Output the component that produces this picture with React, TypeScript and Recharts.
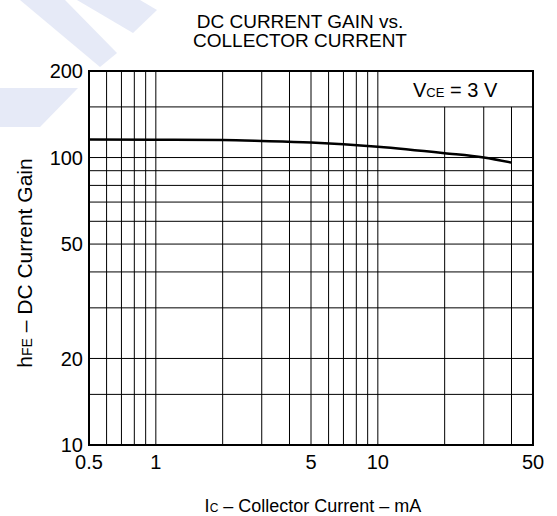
import React from 'react';
import { LineChart, Line, XAxis, YAxis, ReferenceLine, ReferenceArea } from 'recharts';

const currentMA = [0.5, 1, 2, 3, 5, 7, 10, 20, 30, 40];
const gainHFE = [115.5, 115.3, 115, 114.2, 112.8, 111.2, 109, 103.5, 100, 96];
const xTicks = [0.5, 1, 5, 10, 50];
const yTicks = [10, 20, 50, 100, 200];
const xGridFull = [0.6, 0.7, 0.8, 0.9, 1, 2, 3, 4, 5, 6, 7, 8, 9, 10];
const xGridPartial = [20, 30, 40];
const yGrid = [15, 20, 30, 40, 50, 60, 70, 80, 90, 100, 150];

const data = currentMA.map((x, i) => ({ x, y: gainHFE[i] }));

const FONT = '"Liberation Sans", Arial, Helvetica, sans-serif';
const WM = '#e6eaf7';

export default function App() {
  return (
    <div style={{ position: 'absolute', left: 0, top: 0, width: 557, height: 516, background: '#fff', fontFamily: FONT }}>
      <svg width={557} height={516} style={{ position: 'absolute', left: 0, top: 0 }}>
        <polygon points="20,0 65,0 117,53 100,67" fill={WM} />
        <polygon points="77,0 140,0 157,10 133,33" fill={WM} />
        <polygon points="0,88 78,88 40,127 0,127" fill={WM} />
      </svg>
      <div style={{ position: 'absolute', left: 0, top: 0 }}>
        <LineChart width={557} height={516} data={data} margin={{ top: 71, right: 24, bottom: 41, left: 0 }}>
          <XAxis
            dataKey="x"
            type="number"
            scale="log"
            domain={[0.5, 50]}
            ticks={xTicks}
            interval={0}
            allowDataOverflow
            axisLine={false}
            tickLine={false}
            tickSize={0}
            tickMargin={10}
            height={30}
            tick={{ fontSize: 20, fill: '#000', fontFamily: FONT }}
          />
          <YAxis
            dataKey="y"
            type="number"
            scale="log"
            domain={[10, 200]}
            ticks={yTicks}
            interval={0}
            allowDataOverflow
            axisLine={false}
            tickLine={false}
            tickSize={0}
            tickMargin={6}
            width={89}
            tick={{ fontSize: 20, fill: '#000', fontFamily: FONT }}
          />
          {yGrid.map((v) => (
            <ReferenceLine key={'h' + v} y={v} stroke="#000" strokeWidth={1} />
          ))}
          {xGridFull.map((v) => (
            <ReferenceLine key={'v' + v} x={v} stroke="#000" strokeWidth={1} />
          ))}
          {xGridPartial.map((v) => (
            <ReferenceLine key={'p' + v} segment={[{ x: v, y: 10 }, { x: v, y: 150 }]} stroke="#000" strokeWidth={1} />
          ))}
          <ReferenceArea x1={0.5} x2={50} y1={10} y2={200} fill="none" fillOpacity={0} stroke="#000" strokeWidth={2} />
          <Line
            dataKey="y"
            type="monotone"
            stroke="#000"
            strokeWidth={2.5}
            dot={false}
            activeDot={false}
            isAnimationActive={false}
          />
        </LineChart>
      </div>
      <svg width={557} height={516} style={{ position: 'absolute', left: 0, top: 0, pointerEvents: 'none' }} fontFamily={FONT}>
        <text x={300} y={28} textAnchor="middle" fontSize={19} fill="#000">DC CURRENT GAIN vs.</text>
        <text x={300} y={47} textAnchor="middle" fontSize={19} fill="#000">COLLECTOR CURRENT</text>
        <text x={413} y={97} fontSize={20} fill="#000">
          V<tspan fontSize={13}>CE</tspan> = 3 V
        </text>
        <text transform="translate(31.5,263) rotate(-90)" textAnchor="middle" fontSize={21} fill="#000">
          h<tspan fontSize={14}>FE</tspan> – DC Current Gain
        </text>
        <text x={313} y={512} textAnchor="middle" fontSize={18} fill="#000">
          I<tspan fontSize={12}>C</tspan> – Collector Current – mA
        </text>
      </svg>
    </div>
  );
}
